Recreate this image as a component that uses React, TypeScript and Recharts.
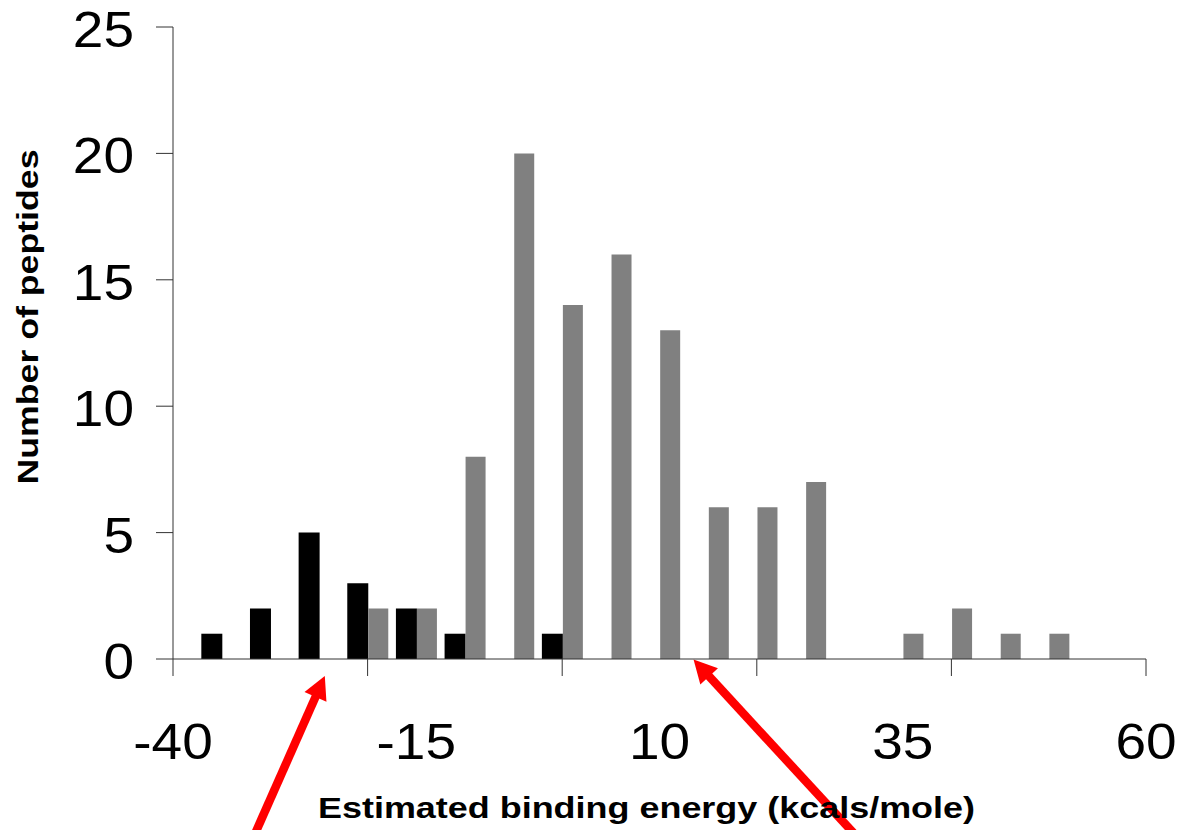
import { BarChart, Bar, XAxis, YAxis, ReferenceLine } from "recharts"

// bin centres (kcal/mole) and peptide counts per bin
const BINS = [-35, -30, -25, -20, -15, -10, -5, 0, 5, 10, 15, 20, 25, 30, 35, 40, 45, 50]
const BLACK = [1, 2, 5, 3, 2, 1, 0, 1, 0, 0, 0, 0, 0, 0, 0, 0, 0, 0]
const GRAY = [0, 0, 0, 2, 2, 8, 20, 14, 16, 13, 6, 6, 7, 0, 1, 2, 1, 1]

const X_LABELS = [-40, -15, 10, 35, 60]
const X_MARKS = [-40, -20, 0, 20, 40, 60]
const Y_TICKS = [0, 5, 10, 15, 20, 25]

// red annotation arrows, tail -> tip, in data units
const ARROWS = [
  { from: { x: -31.9, y: -7.2 }, to: { x: -24.4, y: -0.67 } },
  { from: { x: 30.7, y: -7.2 }, to: { x: 13.5, y: -0.02 } },
]

const FONT = "'Liberation Sans', Arial, sans-serif"
const AXIS = "#333"

const data = BINS.map((bin, i) => ({ bin, black: BLACK[i], gray: GRAY[i] }))
const xTicks = Array.from(new Set([...X_LABELS, ...X_MARKS])).sort((a, b) => a - b)

// the original's text is drawn a little wider than plain Arial
function Num({ x, y, anchor, value }: any) {
  return (
    <text
      transform={`translate(${x} ${y}) scale(1.1 1)`}
      textAnchor={anchor}
      fontSize={50}
      fill="#000"
      fontFamily={FONT}
    >
      {value}
    </text>
  )
}

function XTick({ x, y, payload }: any) {
  const v = payload.value
  return (
    <g>
      {X_MARKS.includes(v) && <line x1={x} y1={y} x2={x} y2={y + 17} stroke={AXIS} />}
      {X_LABELS.includes(v) && <Num x={x} y={y + 99.5} anchor="middle" value={v} />}
    </g>
  )
}

function YTick({ x, y, payload }: any) {
  return <Num x={x + 2} y={y + 20} anchor="end" value={payload.value} />
}

function XTitle() {
  return (
    <text
      x={318}
      y={818}
      fontSize={30}
      fontWeight="bold"
      fill="#000"
      fontFamily={FONT}
      textLength={657}
      lengthAdjust="spacingAndGlyphs"
    >
      Estimated binding energy (kcals/mole)
    </text>
  )
}

function YTitle() {
  return (
    <text
      x={38}
      y={317}
      transform="rotate(-90 38 317)"
      textAnchor="middle"
      fontSize={30}
      fontWeight="bold"
      fill="#000"
      fontFamily={FONT}
      textLength={335}
      lengthAdjust="spacingAndGlyphs"
    >
      Number of peptides
    </text>
  )
}

function Arrow(props: any) {
  const { x1, y1, x2, y2 } = props
  const dx = x2 - x1
  const dy = y2 - y1
  const len = Math.hypot(dx, dy)
  const ux = dx / len
  const uy = dy / len
  const head = 23
  const half = 12
  const bx = x2 - ux * head
  const by = y2 - uy * head
  return (
    <g>
      <line x1={x1} y1={y1} x2={bx + ux * 2} y2={by + uy * 2} stroke="#ff0000" strokeWidth={8.5} />
      <polygon
        points={`${x2},${y2} ${bx - uy * half},${by + ux * half} ${bx + uy * half},${by - ux * half}`}
        fill="#ff0000"
      />
    </g>
  )
}

export default function App() {
  return (
    <div style={{ position: "absolute", left: 0, top: 0, width: 1180, height: 830, background: "#fff" }}>
      <BarChart
        width={1180}
        height={830}
        data={data}
        margin={{ top: 27, right: 34, bottom: 0, left: 0 }}
        barGap={0}
      >
        <XAxis
          dataKey="bin"
          type="number"
          domain={[-40, 60]}
          ticks={xTicks}
          interval={0}
          allowDataOverflow
          height={171}
          tickSize={0}
          tickMargin={0}
          tickLine={false}
          axisLine={{ stroke: AXIS }}
          tick={<XTick />}
          label={<XTitle />}
        />
        <YAxis
          domain={[0, 25]}
          ticks={Y_TICKS}
          width={173}
          tickSize={17}
          tickMargin={24}
          tickLine={{ stroke: AXIS }}
          axisLine={{ stroke: AXIS }}
          tick={<YTick />}
          label={<YTitle />}
        />
        <Bar dataKey="black" fill="#000000" barSize={21} isAnimationActive={false} />
        <Bar dataKey="gray" fill="#808080" barSize={20} isAnimationActive={false} />
        {ARROWS.map((a, i) => (
          <ReferenceLine key={i} segment={[a.from, a.to]} ifOverflow="visible" shape={<Arrow />} />
        ))}
      </BarChart>
    </div>
  )
}
